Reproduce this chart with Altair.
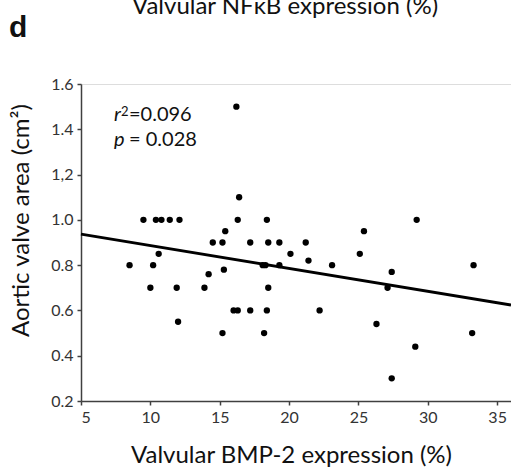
import altair as alt
import pandas as pd

# Scatter data
bmp2 = [16.2, 16.4, 9.5, 10.4, 10.8, 11.4, 12.1, 16.3, 18.4, 29.2,
        15.4, 25.4, 14.5, 15.2, 17.2, 18.5, 19.3, 21.2, 10.6, 20.1,
        25.1, 21.4, 8.5, 10.2, 18.1, 18.3, 19.3, 23.1, 33.3, 15.3,
        27.4, 14.2, 10.0, 11.9, 13.9, 18.5, 27.1, 16.0, 16.3, 17.2,
        18.4, 22.2, 12.0, 26.3, 15.2, 18.2, 33.2, 29.1, 27.4]
ava = [1.5, 1.1, 1.0, 1.0, 1.0, 1.0, 1.0, 1.0, 1.0, 1.0,
       0.95, 0.95, 0.9, 0.9, 0.9, 0.9, 0.9, 0.9, 0.85, 0.85,
       0.85, 0.82, 0.8, 0.8, 0.8, 0.8, 0.8, 0.8, 0.8, 0.78,
       0.77, 0.76, 0.7, 0.7, 0.7, 0.7, 0.7, 0.6, 0.6, 0.6,
       0.6, 0.6, 0.55, 0.54, 0.5, 0.5, 0.5, 0.44, 0.3]

# Regression line end points
fit_x = [5, 36]
fit_y = [0.937, 0.624]

x_ticks = [5, 10, 15, 20, 25, 30, 35]
y_ticks = [0.2, 0.4, 0.6, 0.8, 1.0, 1.2, 1.4, 1.6]

FONT = "Lato"

pts = pd.DataFrame({"x": bmp2, "y": ava})
fit = pd.DataFrame({"x": fit_x, "y": fit_y})

xscale = alt.Scale(domain=[5, 36], nice=False, zero=False)
yscale = alt.Scale(domain=[0.2, 1.6], nice=False, zero=False)

xaxis = alt.Axis(
    values=x_ticks, format="d", grid=False,
    domainColor="#404040", domainWidth=1.5, tickColor="#404040", tickWidth=1.5,
    tickSize=4, labelPadding=4, labelFont=FONT, labelFontSize=16, labelColor="#333333",
    title="Valvular BMP-2 expression (%)", titleFont=FONT, titleFontSize=24,
    titleFontWeight="normal", titleColor="#111111",
    titleX=210, titleY=61, titleAnchor="middle", titleAlign="center", titleBaseline="alphabetic",
)
yaxis = alt.Axis(
    values=y_ticks, grid=False,
    labelExpr="abs(datum.value - 1.2) < 0.001 ? '1,2' : format(datum.value, '.1f')",
    domainColor="#404040", domainWidth=1.5, tickColor="#404040", tickWidth=1.5,
    tickSize=4, labelPadding=4, labelFont=FONT, labelFontSize=16, labelColor="#333333",
    title="Aortic valve area (cm²)", titleFont=FONT, titleFontSize=24,
    titleFontWeight="normal", titleColor="#111111",
    titleX=-53, titleY=136, titleAngle=270, titleAlign="center", titleBaseline="alphabetic",
)

points = alt.Chart(pts).mark_circle(size=40, color="black", opacity=1).encode(
    x=alt.X("x:Q", scale=xscale, axis=xaxis),
    y=alt.Y("y:Q", scale=yscale, axis=yaxis),
)

line = alt.Chart(fit).mark_line(color="black", strokeWidth=3).encode(
    x=alt.X("x:Q", scale=xscale),
    y=alt.Y("y:Q", scale=yscale),
)

def label(txt, x, y, size, **kw):
    return alt.Chart(pd.DataFrame({"t": [txt]})).mark_text(
        align="left", baseline="alphabetic", fontSize=size, color="#111111", **kw
    ).encode(text="t:N", x=alt.value(x), y=alt.value(y))

top_title = alt.Chart(pd.DataFrame({"t": ["Valvular NFκB expression (%)"]})).mark_text(
    align="center", baseline="alphabetic", fontSize=24, font=FONT, color="#111111"
).encode(text="t:N", x=alt.value(204), y=alt.value(-70))

annots = [
    top_title,
    label("d", -72, -47, 30, font="Liberation Sans", fontWeight="bold"),
    label("r", 33, 37, 20, font=FONT, fontStyle="italic"),
    label("2", 40, 32, 13, font=FONT),
    label("=0.096", 48, 37, 20, font=FONT),
    label("p", 33, 62, 20, font=FONT, fontStyle="italic"),
    label("= 0.028", 48, 62, 20, font=FONT),
]

chart = alt.layer(line, points, *annots).properties(
    width=430, height=317,
    autosize=alt.AutoSizeParams(type="none"),
    padding={"left": 81, "top": 84, "right": 0, "bottom": 68},
).configure_view(stroke=None).configure(background="white")

chart.save("out.html", embed_options={"renderer": "svg", "actions": False})
